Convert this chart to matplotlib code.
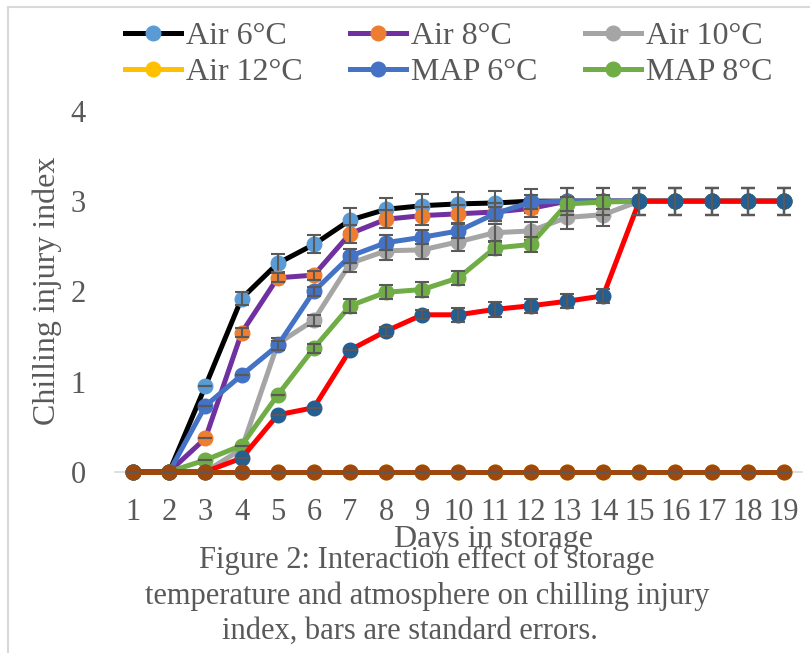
import numpy as np
import matplotlib
matplotlib.use("Agg")
import matplotlib.pyplot as plt
from matplotlib.lines import Line2D

plt.rcParams['font.family'] = ['Liberation Serif', 'DejaVu Serif']

days = list(range(1, 20))

# valori
air6 = [0, 0, 0.95, 1.92, 2.31, 2.52, 2.79, 2.91, 2.95, 2.97, 2.98, 3.0, 3.0, 3.0, 3.0, 3.0, 3.0, 3.0, 3.0]
air8 = [0, 0, 0.37, 1.54, 2.15, 2.18, 2.64, 2.80, 2.84, 2.86, 2.88, 2.92, 3.0, 3.0, 3.0, 3.0, 3.0, 3.0, 3.0]
air10 = [0, 0, 0, 0.25, 1.42, 1.68, 2.31, 2.45, 2.46, 2.55, 2.65, 2.67, 2.82, 2.85, 3.0, 3.0, 3.0, 3.0, 3.0]
air12 = [0] * 19
map6 = [0, 0, 0.73, 1.07, 1.40, 2.0, 2.39, 2.54, 2.60, 2.67, 2.86, 2.99, 3.0, 3.0, 3.0, 3.0, 3.0, 3.0, 3.0]
map8 = [0, 0, 0.13, 0.29, 0.85, 1.37, 1.84, 1.99, 2.02, 2.15, 2.48, 2.52, 2.97, 2.99, 3.0, 3.0, 3.0, 3.0, 3.0]
map10 = [0, 0, 0, 0.15, 0.63, 0.71, 1.35, 1.56, 1.74, 1.74, 1.80, 1.84, 1.89, 1.95, 3.0, 3.0, 3.0, 3.0, 3.0]
map12 = [0] * 19

# errori standard (stimati dalle barre)
err_air6 = [0, 0, 0, 0.07, 0.1, 0.1, 0.13, 0.13, 0.13, 0.13, 0.13, 0.13, 0.15, 0.15, 0.15, 0.15, 0.15, 0.15, 0.15]
err_air8 = [0, 0, 0, 0.05, 0.05, 0.05, 0.1, 0.1, 0.1, 0.1, 0.1, 0.1, 0.15, 0.15, 0.15, 0.15, 0.15, 0.15, 0.15]
err_air10 = [0, 0, 0, 0, 0.06, 0.06, 0.1, 0.1, 0.1, 0.1, 0.1, 0.1, 0.13, 0.13, 0.15, 0.15, 0.15, 0.15, 0.15]
err_air12 = [0] * 19
err_map6 = [0, 0, 0, 0, 0.05, 0.05, 0.08, 0.08, 0.08, 0.08, 0.08, 0.08, 0.15, 0.15, 0.15, 0.15, 0.15, 0.15, 0.15]
err_map8 = [0, 0, 0, 0, 0, 0.05, 0.08, 0.08, 0.08, 0.08, 0.08, 0.08, 0.08, 0.08, 0.15, 0.15, 0.15, 0.15, 0.15]
err_map10 = [0, 0, 0, 0, 0, 0, 0, 0.05, 0.05, 0.08, 0.08, 0.08, 0.08, 0.08, 0.15, 0.15, 0.15, 0.15, 0.15]
err_map12 = [0] * 19

labels = ['Air 6°C', 'Air 8°C', 'Air 10°C', 'Air 12°C', 'MAP 6°C', 'MAP 8°C', 'MAP 10°C', 'MAP 12°C']
valori = [air6, air8, air10, air12, map6, map8, map10, map12]
errori = [err_air6, err_air8, err_air10, err_air12, err_map6, err_map8, err_map10, err_map12]
col_linea = ['black', '#7030A0', '#A5A5A5', '#FFC000', '#4472C4', '#70AD47', '#FF0000', '#9E480E']
col_marker = ['#5B9BD5', '#ED7D31', '#A5A5A5', '#FFC000', '#4472C4', '#70AD47', '#255E91', '#9E480E']

grigio = '#595959'

fig = plt.figure(figsize=(8.1, 6.53), dpi=100)
W, H = 810, 653
ax = fig.add_axes([115 / W, 1 - 471.7 / H, (802 - 115) / W, (471.7 - 111) / H])

handles = []
for i in range(8):
    z = 3 + i
    ax.plot(days, valori[i], color=col_linea[i], lw=3.6, marker='o', ms=10.5,
            mfc=col_marker[i], mec=col_marker[i], zorder=z, clip_on=False)
    ax.errorbar(days, valori[i], yerr=errori[i], fmt='none', ecolor=grigio,
                elinewidth=1.5, capsize=5, capthick=1.5, zorder=z + 0.5, clip_on=False)
    handles.append(Line2D([], [], color=col_linea[i], lw=3.6, marker='o', ms=10.5,
                          mfc=col_marker[i], mec=col_marker[i]))

ax.set_xlim(0.5, 19.5)
ax.set_ylim(0, 4)
ax.set_xticks(days)
ax.set_yticks([0, 1, 2, 3, 4])
ax.tick_params(length=0, labelsize=22, colors=grigio)
ax.tick_params(axis='x', pad=19)
ax.tick_params(axis='y', pad=21)
for s in ['top', 'right', 'left']:
    ax.spines[s].set_visible(False)
ax.spines['bottom'].set_color('#D9D9D9')
ax.spines['bottom'].set_linewidth(1.2)

fig.text(47 / W, 1 - 291 / H, 'Chilling injury index', rotation=90, ha='center', va='center',
         fontsize=23, color=grigio)
fig.text(494 / W, 1 - 539 / H, 'Days in storage', ha='center', va='center', fontsize=23, color=grigio)

# legenda su due righe (ordine per righe)
ordine = [0, 3, 1, 4, 2, 5]
leg = fig.legend([handles[k] for k in ordine], [labels[k] for k in ordine], ncol=3,
                 loc='upper left', bbox_to_anchor=(125 / W, 1 - 22 / H), frameon=False,
                 fontsize=23, handlelength=1.75, handletextpad=0.15, columnspacing=1.5,
                 labelspacing=0.2, borderpad=0, borderaxespad=0)
for t in leg.get_texts():
    t.set_color(grigio)

# didascalia
fig.text(427 / W, 1 - 560 / H, 'Figure 2: Interaction effect of storage', ha='center', va='center',
         fontsize=22, color=grigio)
fig.text(427 / W, 1 - 596 / H, 'temperature and atmosphere on chilling injury', ha='center', va='center',
         fontsize=22, color=grigio)
fig.text(410 / W, 1 - 631 / H, 'index, bars are standard errors.', ha='center', va='center',
         fontsize=22, color=grigio)

# bordo del grafico
fig.add_artist(Line2D([8 / W, 8 / W], [0, 1 - 7 / H], color='#D9D9D9', lw=1.5))
fig.add_artist(Line2D([8 / W, 1], [1 - 7 / H, 1 - 7 / H], color='#D9D9D9', lw=1.5))

fig.savefig('out.png', dpi=100)
